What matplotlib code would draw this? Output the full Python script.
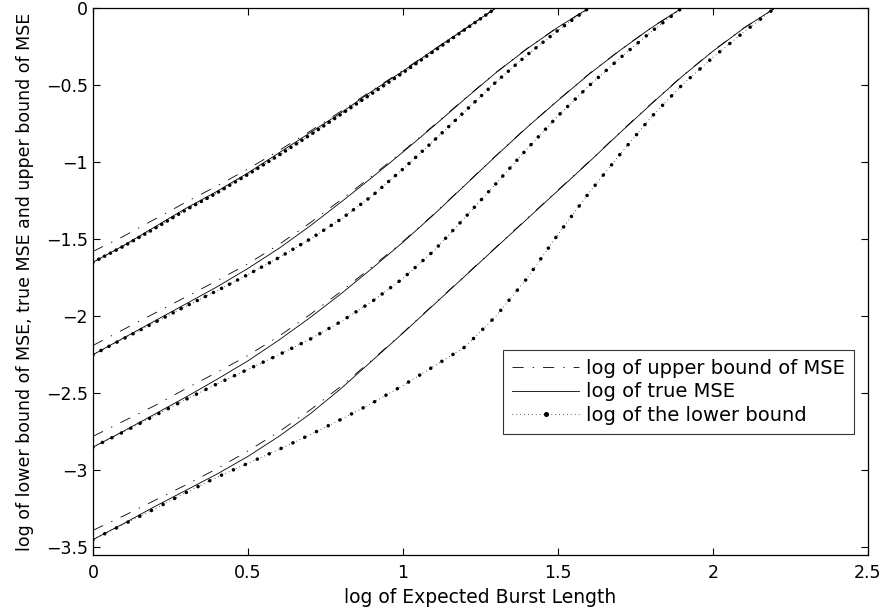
import matplotlib
matplotlib.use("Agg")
import matplotlib.pyplot as plt
from matplotlib.lines import Line2D

plt.rcParams["font.family"] = ["DejaVu Sans"]
plt.rcParams["lines.scale_dashes"] = False

# log of expected burst length, one grid per family of curves
x1 = [0.0, 0.1, 0.2, 0.3, 0.4, 0.5, 0.6, 0.7, 0.8, 0.9, 1.0, 1.1, 1.2, 1.3]
x2 = [0.0, 0.1, 0.2, 0.3, 0.4, 0.5, 0.6, 0.7, 0.8, 0.9, 1.0, 1.1, 1.2, 1.3, 1.4, 1.5, 1.6]
x3 = [0.0, 0.1, 0.2, 0.3, 0.4, 0.5, 0.6, 0.7, 0.8, 0.9, 1.0, 1.1, 1.2, 1.3, 1.4, 1.5,
      1.6, 1.7, 1.8, 1.9]
x4 = [0.0, 0.1, 0.2, 0.3, 0.4, 0.5, 0.6, 0.7, 0.8, 0.9, 1.0, 1.1, 1.2, 1.3, 1.4, 1.5,
      1.6, 1.7, 1.8, 1.9, 2.0, 2.1, 2.2]

upper1 = [-1.58, -1.48, -1.37, -1.26, -1.155, -1.045, -0.925, -0.80, -0.67, -0.535,
          -0.405, -0.27, -0.135, 0.0]
true1 = [-1.65, -1.54, -1.42, -1.30, -1.19, -1.07, -0.94, -0.81, -0.68, -0.54,
         -0.41, -0.27, -0.135, 0.0]
lower1 = [-1.65, -1.545, -1.43, -1.31, -1.20, -1.08, -0.955, -0.825, -0.69, -0.555,
          -0.42, -0.28, -0.14, 0.0]

upper2 = [-2.19, -2.085, -1.98, -1.875, -1.77, -1.66, -1.535, -1.395, -1.245, -1.09,
          -0.93, -0.76, -0.587, -0.418, -0.263, -0.124, 0.0]
true2 = [-2.25, -2.14, -2.03, -1.92, -1.81, -1.69, -1.56, -1.415, -1.26, -1.10,
         -0.935, -0.765, -0.59, -0.42, -0.265, -0.125, 0.0]
lower2 = [-2.25, -2.145, -2.04, -1.935, -1.835, -1.73, -1.62, -1.50, -1.37, -1.22,
          -1.045, -0.86, -0.67, -0.48, -0.305, -0.145, 0.0]

upper3 = [-2.78, -2.68, -2.58, -2.47, -2.365, -2.255, -2.13, -1.99, -1.84, -1.68,
          -1.515, -1.337, -1.148, -0.958, -0.773, -0.598, -0.428, -0.273, -0.129, 0.0]
true3 = [-2.85, -2.745, -2.635, -2.525, -2.41, -2.29, -2.155, -2.01, -1.855, -1.69,
         -1.52, -1.34, -1.15, -0.96, -0.775, -0.60, -0.43, -0.275, -0.13, 0.0]
lower3 = [-2.85, -2.75, -2.645, -2.54, -2.44, -2.345, -2.25, -2.15, -2.035, -1.905,
          -1.755, -1.575, -1.36, -1.14, -0.915, -0.70, -0.505, -0.325, -0.155, 0.0]

upper4 = [-3.39, -3.295, -3.195, -3.095, -2.99, -2.875, -2.75, -2.61, -2.455, -2.285,
          -2.107, -1.922, -1.737, -1.552, -1.367, -1.182, -0.997, -0.807, -0.622,
          -0.443, -0.278, -0.129, 0.0]
true4 = [-3.45, -3.345, -3.235, -3.13, -3.025, -2.91, -2.78, -2.635, -2.47, -2.29,
         -2.11, -1.925, -1.74, -1.555, -1.37, -1.185, -1.0, -0.81, -0.625, -0.445,
         -0.28, -0.13, 0.0]
lower4 = [-3.45, -3.35, -3.25, -3.145, -3.045, -2.955, -2.865, -2.77, -2.67, -2.565,
          -2.45, -2.325, -2.20, -2.00, -1.755, -1.47, -1.20, -0.95, -0.71, -0.50,
          -0.32, -0.155, 0.0]

families = [
    (x1, upper1, true1, lower1, 4.7),
    (x2, upper2, true2, lower2, 6.5),
    (x3, upper3, true3, lower3, 7.6),
    (x4, upper4, true4, lower4, 9.4),
]

upper_dash = (0, (8, 6.5, 1, 6.5))
fine_dots = (0, (0.6, 2.2))

fig = plt.figure(figsize=(8.83, 6.11), dpi=100)
ax = fig.add_axes([0.1053, 0.0917, 0.8777, 0.8952])

for xs, up, tr, lo, gap in families:
    ax.plot(xs, up, color="k", lw=0.6, linestyle=upper_dash)
    ax.plot(xs, tr, color="k", lw=0.6, linestyle="-")
    ax.plot(xs, lo, color="k", lw=0.5, linestyle=fine_dots)
    ax.plot(xs, lo, color="k", lw=2.6, linestyle=(0, (0.01, gap)),
            dash_capstyle="round")

ax.set_xlim(0, 2.5)
ax.set_ylim(-3.55, 0)
ax.set_xticks([0, 0.5, 1, 1.5, 2, 2.5])
ax.set_xticklabels(["0", "0.5", "1", "1.5", "2", "2.5"])
ax.set_yticks([0, -0.5, -1, -1.5, -2, -2.5, -3, -3.5])
ax.set_yticklabels(["0", "\u22120.5", "\u22121", "\u22121.5", "\u22122", "\u22122.5",
                    "\u22123", "\u22123.5"])
ax.tick_params(direction="in", length=5, width=0.8, top=True, right=True,
               labelsize=12.5)
ax.tick_params(axis="x", pad=6.5)
ax.tick_params(axis="y", pad=3.5)
for s in ax.spines.values():
    s.set_linewidth(0.9)

ax.set_xlabel("log of Expected Burst Length", fontsize=13.5, labelpad=4.5)
ax.set_ylabel("log of lower bound of MSE, true MSE and upper bound of MSE",
              fontsize=12.5, labelpad=9)

handles = [
    Line2D([], [], color="k", lw=0.6, linestyle=upper_dash),
    Line2D([], [], color="k", lw=0.6, linestyle="-"),
    Line2D([], [], color="k", lw=0.5, linestyle=fine_dots, marker="o",
           markersize=2.6),
]
labels = ["log of upper bound of MSE", "log of true MSE", "log of the lower bound"]
leg = ax.legend(handles, labels, loc="lower right", bbox_to_anchor=(0.982, 0.2212),
                fontsize=14, frameon=True, fancybox=False, edgecolor="k",
                handlelength=3.45, handletextpad=0.37, borderaxespad=0,
                labelspacing=0.25, borderpad=0.45, numpoints=1)
leg.get_frame().set_linewidth(0.8)

fig.savefig("out.png", dpi=100)
